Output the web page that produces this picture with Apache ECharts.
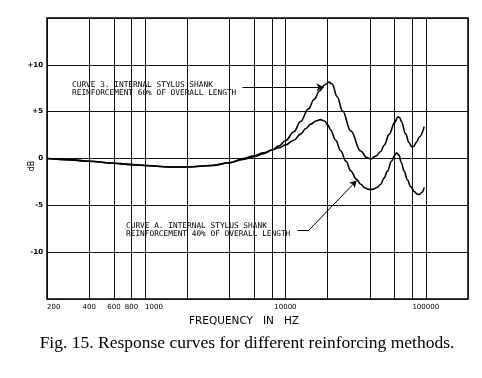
<!DOCTYPE html>
<html>
<head>
<meta charset="utf-8">
<script src="https://cdn.jsdelivr.net/npm/echarts@6/dist/echarts.min.js"></script>
<style>
html,body{margin:0;padding:0;background:#fff;}
#chart{width:482px;height:378px;}
</style>
</head>
<body>
<div id="chart"></div>
<script>
// ---- data ----
const gridFreqs = [200, 400, 600, 800, 1000, 2000, 4000, 6000, 8000, 10000, 20000, 40000, 60000, 80000, 100000, 200000];
const freqLabels = ['200', '400', '600', '800', '1000', '10000', '100000'];
const dbTicks = [-10, -5, 0, 5, 10];

// Curve 3: reinforcement 60% of overall length
const freq3 = [200, 300, 400, 600, 800, 1000, 1500, 2000, 3000, 4000, 5000, 6000, 7000, 8000, 9000, 10000, 11500, 12800, 14600, 16000, 17500, 19000, 20400, 21500, 23400, 25500, 29200, 34400, 38000, 40500, 44000, 47800, 50400, 55000, 60000, 63500, 65500, 67000, 72000, 76000, 79300, 82000, 86000, 90000, 97500];
const db3   = [0, -0.15, -0.3, -0.5, -0.65, -0.75, -0.9, -0.9, -0.75, -0.45, -0.1, 0.2, 0.5, 0.9, 1.35, 1.9, 2.85, 3.95, 5.3, 6.3, 7.2, 7.85, 8.15, 7.95, 6.6, 5.1, 2.95, 0.8, 0.1, -0.05, 0.25, 0.75, 1.4, 2.6, 3.85, 4.45, 4.35, 3.95, 2.6, 1.7, 1.25, 1.3, 1.75, 2.3, 3.4];

// Curve A: reinforcement 40% of overall length
const freqA = [200, 300, 400, 600, 800, 1000, 1500, 2000, 3000, 4000, 5000, 6000, 7000, 8000, 9000, 10000, 11500, 12800, 14000, 15100, 16500, 17800, 19000, 20000, 21000, 22800, 24800, 27000, 29200, 32000, 34400, 37000, 39400, 42000, 45000, 47800, 50400, 53300, 57000, 60000, 62200, 64500, 67000, 70100, 74200, 78000, 83000, 87000, 90000, 94000, 97500];
const dbA   = [0, -0.15, -0.3, -0.5, -0.65, -0.75, -0.9, -0.9, -0.75, -0.45, 0.0, 0.3, 0.6, 0.9, 1.15, 1.45, 1.95, 2.6, 3.2, 3.65, 4.0, 4.15, 4.0, 3.6, 3.05, 1.95, 0.8, -0.3, -1.3, -2.2, -2.75, -3.15, -3.3, -3.3, -3.1, -2.75, -2.1, -1.35, -0.3, 0.35, 0.6, 0.35, -0.45, -1.35, -2.3, -3.0, -3.55, -3.8, -3.85, -3.6, -3.1];

const note3 = ['CURVE 3. INTERNAL STYLUS SHANK', 'REINFORCEMENT 60% OF OVERALL LENGTH'];
const noteA = ['CURVE A. INTERNAL STYLUS SHANK', 'REINFORCEMENT 40% OF OVERALL LENGTH'];
// arrow end points (frequency, dB)
const arrow3 = [[4940, 7.6], [18700, 7.6]];
const arrowA = [[12200, -7.7], [14600, -7.7], [32200, -2.35]];

const caption = 'Fig. 15. Response curves for different reinforcing methods.';

// ---- chart ----
const chart = echarts.init(document.getElementById('chart'), null, {renderer: 'canvas'});

const zip = (xs, ys) => xs.map((x, i) => [x, ys[i]]);
const tickFont = {fontFamily: 'DejaVu Sans', fontSize: 7, color: '#000'};

const gridLines = gridFreqs.map(f => {
  const s = String(f);
  const show = freqLabels.indexOf(s) >= 0;
  return {
    xAxis: f,
    label: Object.assign({
      show: show,
      formatter: s,
      position: 'start',
      distance: 5,
      align: (f === 200 || f === 1000) ? 'left' : 'center'
    }, tickFont)
  };
});

const option = {
  backgroundColor: '#fff',
  animation: false,
  grid: {left: 47, right: 14, top: 18, bottom: 79, show: true, borderColor: '#000', borderWidth: 1.5, containLabel: false},
  xAxis: {
    type: 'log', logBase: 10, min: 200, max: 200000,
    name: 'FREQUENCY   IN   HZ', nameLocation: 'middle', nameGap: 17,
    nameTextStyle: {fontFamily: 'DejaVu Sans', fontSize: 10.5, color: '#000', padding: [0, 27, 0, 0]},
    axisLine: {show: false}, axisTick: {show: false}, axisLabel: {show: false}, splitLine: {show: false}
  },
  yAxis: {
    type: 'value', min: -15, max: 15, interval: 5,
    axisLine: {show: false}, axisTick: {show: false},
    axisLabel: {
      margin: 4, fontFamily: 'DejaVu Sans', fontSize: 7, fontWeight: 'bold', color: '#000',
      formatter: v => dbTicks.indexOf(v) < 0 ? '' : (v > 0 ? '+' + v : String(v))
    },
    splitLine: {show: true, lineStyle: {color: '#111', width: 1}}
  },
  series: [
    {
      name: 'grid', type: 'line', data: [], silent: true,
      markLine: {
        silent: true, symbol: 'none', animation: false,
        lineStyle: {color: '#111', width: 1, type: 'solid'},
        emphasis: {disabled: true},
        data: gridLines
      }
    },
    {
      name: 'Curve 3', type: 'line', data: zip(freq3, db3), smooth: 0.4, smoothMonotone: 'x',
      showSymbol: false, symbol: 'none', lineStyle: {color: '#000', width: 1.6}, z: 5,
      markLine: {
        silent: true, symbol: ['none', 'arrow'], symbolSize: [6, 7], animation: false,
        lineStyle: {color: '#000', width: 1, type: 'solid'}, label: {show: false},
        data: [[{coord: arrow3[0], symbol: 'none'}, {coord: arrow3[1], symbol: 'arrow'}]]
      }
    },
    {
      name: 'Curve A', type: 'line', data: zip(freqA, dbA), smooth: 0.4, smoothMonotone: 'x',
      showSymbol: false, symbol: 'none', lineStyle: {color: '#000', width: 1.6}, z: 5,
      markLine: {
        silent: true, symbol: ['none', 'none'], symbolSize: [6, 7], animation: false,
        lineStyle: {color: '#000', width: 1, type: 'solid'}, label: {show: false},
        data: [
          [{coord: arrowA[0], symbol: 'none'}, {coord: arrowA[1], symbol: 'none'}],
          [{coord: arrowA[1], symbol: 'none'}, {coord: arrowA[2], symbol: 'arrow'}]
        ]
      }
    }
  ],
  graphic: [
    {type: 'text', x: 32, y: 166, rotation: Math.PI / 2, silent: true,
     style: {text: 'dB', font: '8px "DejaVu Sans"', fill: '#000', align: 'center', verticalAlign: 'middle'}},
    {type: 'text', left: 72, top: 81, silent: true,
     style: {text: note3.join('\n'), font: '7.8px "DejaVu Sans Mono"', lineHeight: 8, fill: '#000'}},
    {type: 'text', left: 126, top: 222, silent: true,
     style: {text: noteA.join('\n'), font: '7.8px "DejaVu Sans Mono"', lineHeight: 8, fill: '#000'}},
    {type: 'text', x: 247, y: 343, silent: true,
     style: {text: caption, font: '17.5px "Liberation Serif"', fill: '#000', align: 'center', verticalAlign: 'middle'}}
  ]
};
chart.setOption(option);
</script>
</body>
</html>
